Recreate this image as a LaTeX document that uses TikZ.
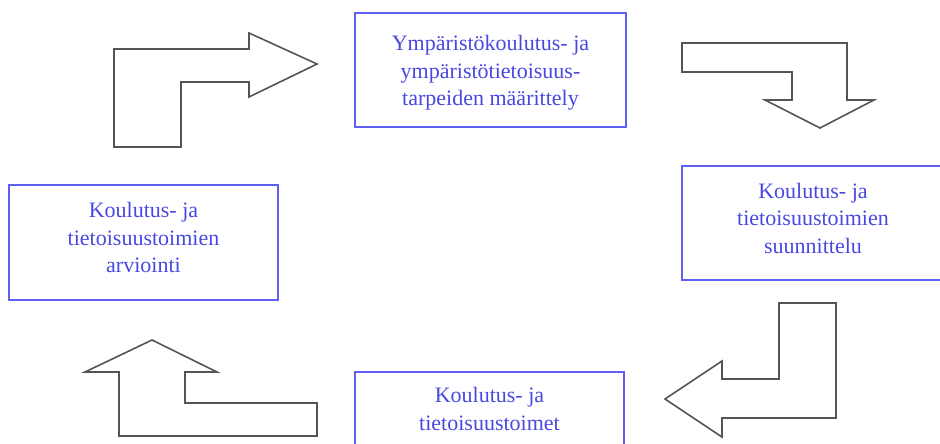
\documentclass[tikz,border=0pt]{standalone}
\usepackage{fontspec}
\setmainfont{Liberation Serif}
\definecolor{boxblue}{RGB}{95,95,240}
\definecolor{txtblue}{RGB}{72,72,225}
\definecolor{arrgray}{RGB}{85,85,85}
\begin{document}
\begin{tikzpicture}[x=1pt,y=-1pt,
  stagebox/.style={draw=boxblue, line width=2pt, rectangle, inner sep=0pt},
  stagetext/.style={text=txtblue, align=center, inner sep=0pt,
    font=\fontsize{22}{27.5}\selectfont},
  bentarrow/.style={draw=arrgray, line width=1.6pt, line join=miter, fill=white}]
\useasboundingbox (0,0) rectangle (940,444);
\clip (0,0) rectangle (940,444);
% boxes
\node[stagebox, minimum width=271pt, minimum height=114pt] (need) at (490.5,70) {};
\node[stagetext] (needtext) at ([yshift=-3pt]need.center)
  {Ympäristökoulutus- ja\\ympäristötietoisuus-\\tarpeiden määrittely};
\node[stagebox, minimum width=262pt, minimum height=114pt] (plan) at (813,223) {};
\node[stagetext] (plantext) at ([yshift=5pt]plan.center)
  {Koulutus- ja\\tietoisuustoimien\\suunnittelu};
\node[stagebox, minimum width=269pt, minimum height=115pt] (eval) at (143.5,242.5) {};
\node[stagetext] (evaltext) at ([yshift=5pt]eval.center)
  {Koulutus- ja\\tietoisuustoimien\\arviointi};
\node[stagebox, minimum width=269pt, minimum height=76pt] (act) at (489.5,410) {};
\node[stagetext] (acttext) at ([yshift=1pt]act.center)
  {Koulutus- ja\\tietoisuustoimet};
% arrows
\draw[bentarrow] (114,147) -- (114,49) -- (249,49) -- (249,33) -- (317,64)
  -- (249,97) -- (249,82) -- (181,82) -- (181,147) -- cycle;
\draw[bentarrow] (682,43) -- (847,43) -- (847,100) -- (874,100) -- (820,128)
  -- (765,100) -- (792,100) -- (792,72) -- (682,72) -- cycle;
\draw[bentarrow] (779,303) -- (836,303) -- (836,418) -- (722,418) -- (722,437)
  -- (665,399) -- (722,361) -- (722,379) -- (779,379) -- cycle;
\draw[bentarrow] (152,340) -- (217,372) -- (185,372) -- (185,403) -- (317,403)
  -- (317,436) -- (119,436) -- (119,372) -- (85,372) -- cycle;
\end{tikzpicture}
\end{document}
